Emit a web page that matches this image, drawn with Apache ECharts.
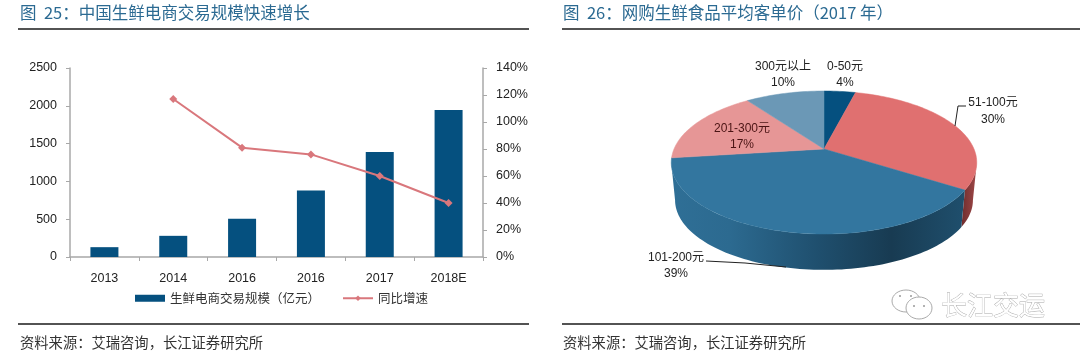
<!DOCTYPE html>
<html><head><meta charset="utf-8">
<style>html,body{margin:0;padding:0;background:#fff}#c{width:1080px;height:351px}</style>
<script src="https://cdn.jsdelivr.net/npm/echarts@6/dist/echarts.min.js"></script>
</head><body><div id="c"></div>
<script>
const years = ['2013','2014','2016','2016','2017','2018E'];
const scaleValues = [130,280,505,880,1390,1945];
const growthValues = [null,117,81,76,60,40];
const barName = '生鲜电商交易规模（亿元）';
const lineName = '同比增速';
const priceNames = ['0-50元','51-100元','101-200元','201-300元','300元以上'];
const priceShares = [4,30,39,17,10];
const priceColors = ['#05507f','#e07070','#33769f','#e69696','#6b98b6'];
const FONT = '"Liberation Sans","Noto Sans CJK SC",sans-serif';
const CJK = '"Noto Sans CJK SC",sans-serif';
const TITLE = '#2b6a92';

/* oblique projection of the pie disc */
const P = {cx:824, cy:149, R:150, Rv:68.95, k:0.1888, depth:38, shrink:0.975};
function proj(deg, lower){
  const a = deg*Math.PI/180, X = Math.sin(a), Y = -Math.cos(a), w = 1-P.k*Y;
  const s = lower ? P.shrink : 1;
  return [P.cx + s*P.R*X/w, P.cy + (lower?P.depth:0) + s*P.Rv*Y/w];
}
function arc(a0,a1,lower){
  const pts=[], n=Math.max(2,Math.ceil(Math.abs(a1-a0)/1.5));
  for(let i=0;i<=n;i++) pts.push(proj(a0+(a1-a0)*i/n,lower));
  return pts;
}
const labelSpots = [
  {x:845,y:74.5,c:'#222'},{x:993,y:111,c:'#222',line:[[966,106],[958,106],[955,126]]},
  {x:676,y:265.5,c:'#222',line:[[706,261],[745,263],[786,267]]},
  {x:742,y:136.5,c:'#4a1414'},{x:783,y:74.5,c:'#222'}
];
const sideFill = {
  1:{range:[101,122.4],stops:[[0,'#a04848'],[1,'#6e2d2d']]},
  2:{range:[122.4,259],stops:[[0,'#1f4f6d'],[0.25,'#183b52'],[0.5,'#1f4f6e'],[0.8,'#2c6a90'],[1,'#2f6f96']]}
};
function renderSlice(params, api){
  const i = params.dataIndex;
  const before = priceShares.slice(0,i).reduce((a,b)=>a+b,0);
  const a0 = before*3.6, a1 = (before+api.value(0))*3.6;
  const kids = [];
  const sf = sideFill[i];
  if(sf){
    const top = arc(sf.range[0],sf.range[1],false), low = arc(sf.range[1],sf.range[0],true);
    kids.push({type:'polygon',shape:{points:top.concat(low)},style:{
      fill:new echarts.graphic.LinearGradient(1,0,0,0,sf.stops.map(s=>({offset:s[0],color:s[1]})))}});
  }
  kids.push({type:'polygon',shape:{points:[[P.cx,P.cy]].concat(arc(a0,a1,false))},
    style:{fill:priceColors[i],stroke:priceColors[i],lineWidth:0.5}});
  return {type:'group',children:kids};
}
function renderLabel(params, api){
  const i = params.dataIndex, s = labelSpots[i], kids=[];
  if(s.line) kids.push({type:'polyline',shape:{points:s.line},style:{stroke:'#222',lineWidth:1,fill:null}});
  kids.push({type:'text',style:{x:s.x,y:s.y,text:priceNames[i]+'\n'+api.value(0)+'%',
    align:'center',verticalAlign:'middle',fill:s.c,font:'12px '+FONT,lineHeight:16.5}});
  return {type:'group',children:kids};
}
const pieData = priceNames.map((n,i)=>({name:n,value:priceShares[i]}));
const rule = (x1,x2,y)=>({type:'line',shape:{x1,y1:y,x2,y2:y},style:{stroke:'#1a1a1a',lineWidth:1.5},silent:true});
const wmText = {type:'text',style:{x:941,y:305,text:'长江交运',font:'26px '+CJK,fill:'#fff',stroke:'#a8a8a8',lineWidth:0.8,verticalAlign:'middle'}};
const bub = (cx,cy,rx,ry)=>({type:'ellipse',shape:{cx,cy,rx,ry},style:{fill:'#fff',stroke:'#aaa',lineWidth:1}});
const dot = (cx,cy)=>({type:'circle',shape:{cx,cy,r:1},style:{fill:'#999'}});
const plain = v => String(v);

const chart = echarts.init(document.getElementById('c'),null,{renderer:'canvas'});
chart.setOption({
  animation:false,
  backgroundColor:'#fff',
  title:[
    {text:'图  25：中国生鲜电商交易规模快速增长',left:20,top:4,padding:0,textStyle:{color:TITLE,fontSize:16.5,fontWeight:'normal',fontFamily:CJK}},
    {text:'图  26：网购生鲜食品平均客单价（2017 年）',left:563,top:4,padding:0,textStyle:{color:TITLE,fontSize:16.5,fontWeight:'normal',fontFamily:CJK}},
    {text:'资料来源：艾瑞咨询，长江证券研究所',left:20,top:335,padding:0,textStyle:{color:'#333',fontSize:14.3,fontWeight:'normal',fontFamily:CJK}},
    {text:'资料来源：艾瑞咨询，长江证券研究所',left:563,top:335,padding:0,textStyle:{color:'#333',fontSize:14.3,fontWeight:'normal',fontFamily:CJK}}
  ],
  legend:{left:130,top:287,itemWidth:30,itemHeight:7,itemGap:22,selectedMode:false,
    data:[{name:barName,icon:'rect'},{name:lineName}],
    textStyle:{fontFamily:CJK,fontSize:12.5,color:'#333',padding:[5,0,0,0]}},
  grid:{left:70,right:597,top:68,height:189,containLabel:false},
  xAxis:{type:'category',data:years,
    axisLine:{lineStyle:{color:'#a8a8a8',width:1.5}},
    axisTick:{show:true,length:4,alignWithLabel:false,lineStyle:{color:'#a8a8a8'}},
    axisLabel:{color:'#222',fontFamily:FONT,fontSize:12.5,margin:15,interval:0}},
  yAxis:[
    {type:'value',min:0,max:2500,interval:500,splitLine:{show:false},
     axisLine:{show:true,lineStyle:{color:'#a8a8a8',width:1.5}},
     axisTick:{show:true,length:4,lineStyle:{color:'#a8a8a8'}},
     axisLabel:{color:'#222',fontFamily:FONT,fontSize:12.5,margin:13,formatter:plain}},
    {type:'value',min:0,max:140,interval:20,position:'right',splitLine:{show:false},
     axisLine:{show:true,lineStyle:{color:'#a8a8a8',width:1.5}},
     axisTick:{show:true,length:4,lineStyle:{color:'#a8a8a8'}},
     axisLabel:{color:'#222',fontFamily:FONT,fontSize:12.5,margin:13,formatter:'{value}%'}}
  ],
  series:[
    {name:barName,type:'bar',data:scaleValues,barWidth:28,itemStyle:{color:'#05507f'}},
    {name:lineName,type:'line',yAxisIndex:1,data:growthValues,symbol:'diamond',symbolSize:8,
     connectNulls:false,lineStyle:{color:'#d9777c',width:2},itemStyle:{color:'#d9777c'}},
    {type:'custom',coordinateSystem:'none',data:pieData,renderItem:renderSlice,silent:true,z:3,
     encode:{value:'value'}},
    {type:'custom',coordinateSystem:'none',data:pieData,renderItem:renderLabel,silent:true,z:4,
     encode:{value:'value'}}
  ],
  graphic:[
    rule(18,529,29),rule(18,529,324),rule(562,1080,29),rule(562,1080,324),
    bub(906,301,14,11),bub(919,308,13,11),dot(900,296),dot(911,296),dot(914,306),dot(924,306),
    wmText
  ]
});
</script></body></html>
